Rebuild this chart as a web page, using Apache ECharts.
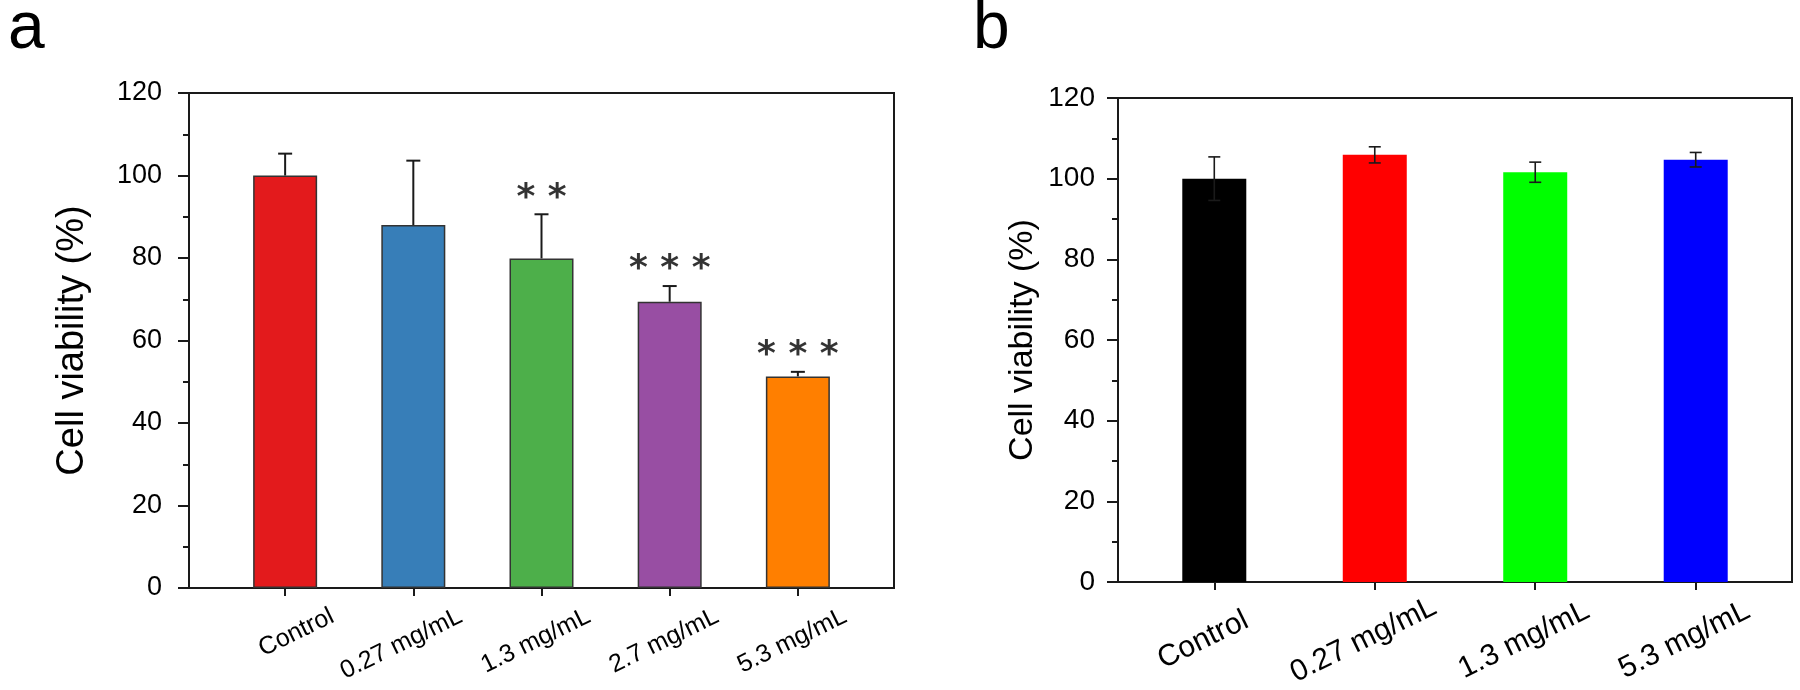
<!DOCTYPE html>
<html>
<head>
<meta charset="utf-8">
<script src="https://cdn.jsdelivr.net/npm/echarts@6/dist/echarts.min.js"></script>
<style>
  html, body { margin: 0; padding: 0; background: #fff; }
  #chart { width: 1800px; height: 690px; }
</style>
</head>
<body>
<div id="chart"></div>
<script>
// ---- Data ----
const categoriesA = ['Control', '0.27 mg/mL', '1.3 mg/mL', '2.7 mg/mL', '5.3 mg/mL'];
const viabilityA = [100.0, 88.0, 79.9, 69.4, 51.3];
const errorA = [5.3, 15.6, 10.7, 3.8, 1.1];
const signifA = ['', '', '**', '***', '***'];

const categoriesB = ['Control', '0.27 mg/mL', '1.3 mg/mL', '5.3 mg/mL'];
const viabilityB = [100.0, 105.9, 101.6, 104.7];
const errorB = [5.4, 2.0, 2.5, 1.8];

const yMin = 0, yMax = 120, yStep = 20;
const yTitle = 'Cell viability (%)';
const panelLetters = ['a', 'b'];

// ---- Styling ----
const colorsA = ['#E31A1C', '#377EB8', '#4DAF4A', '#984EA3', '#FF7F00'];
const colorsB = ['#000000', '#FF0000', '#00FF00', '#0000FF'];
const FONT = 'Liberation Sans, Arial, sans-serif';
const INK = '#1a1a1a';

const chart = echarts.init(document.getElementById('chart'), null, { renderer: 'canvas' });

function idx(arr) { return arr.map((_, i) => i); }

function yAxisFor(gridIndex, labelSize, labelMargin, nameSize, nameGap) {
  return {
    type: 'value', gridIndex, min: yMin, max: yMax, interval: yStep,
    name: yTitle, nameLocation: 'middle', nameGap,
    nameTextStyle: { fontFamily: FONT, fontSize: nameSize, color: '#000' },
    axisLine: { show: true, onZero: false, lineStyle: { color: INK, width: 2 } },
    axisTick: { show: true, inside: false, length: 11, lineStyle: { color: INK, width: 2 } },
    minorTick: { show: true, splitNumber: 2, length: 6, lineStyle: { color: INK, width: 2 } },
    axisLabel: { fontFamily: FONT, fontSize: labelSize, color: '#000', margin: labelMargin },
    splitLine: { show: false }
  };
}

function mainXAxis(gridIndex, cats, pad) {
  return {
    type: 'value', gridIndex, position: 'bottom',
    min: -pad, max: cats.length - 1 + pad,
    axisLine: { show: true, onZero: false, lineStyle: { color: INK, width: 2 } },
    axisTick: { show: true, length: 8, customValues: idx(cats), lineStyle: { color: INK, width: 2 } },
    axisLabel: { show: false },
    splitLine: { show: false }
  };
}

function labelXAxis(gridIndex, cats, pad, shift, opts) {
  return {
    type: 'value', gridIndex, position: 'bottom', offset: 0,
    min: -pad, max: cats.length - 1 + pad,
    axisLine: { show: false, onZero: false },
    axisTick: { show: false },
    splitLine: { show: false },
    axisLabel: Object.assign({
      show: true,
      customValues: idx(cats).map(i => i + shift),
      formatter: v => cats[Math.round(v - shift)] || '',
      fontFamily: FONT, color: '#000'
    }, opts)
  };
}

function errorSeries(xi, yi, means, errs, both, capHalf, width) {
  return {
    type: 'custom', xAxisIndex: xi, yAxisIndex: yi, z: 5,
    data: means.map((m, i) => [i, m, errs[i]]),
    renderItem: function (params, api) {
      const x = api.value(0), m = api.value(1), e = api.value(2);
      const top = api.coord([x, m + e]);
      const low = api.coord([x, both ? m - e : m]);
      const style = { stroke: INK, lineWidth: width };
      const children = [
        { type: 'line', shape: { x1: top[0], y1: top[1], x2: low[0], y2: low[1] }, style },
        { type: 'line', shape: { x1: top[0] - capHalf, y1: top[1], x2: top[0] + capHalf, y2: top[1] }, style }
      ];
      if (both) {
        children.push({ type: 'line', shape: { x1: low[0] - capHalf, y1: low[1], x2: low[0] + capHalf, y2: low[1] }, style });
      }
      return { type: 'group', children };
    }
  };
}

const option = {
  animation: false,
  backgroundColor: '#ffffff',
  title: [
    { text: panelLetters[0], left: 3, top: -8, textStyle: { fontFamily: FONT, fontSize: 66, fontWeight: 'normal', color: '#000' } },
    { text: panelLetters[1], left: 968, top: -8, textStyle: { fontFamily: FONT, fontSize: 66, fontWeight: 'normal', color: '#000' } }
  ],
  grid: [
    { left: 189, top: 93, width: 705, height: 495, show: true, borderColor: INK, borderWidth: 2, backgroundColor: 'transparent' },
    { left: 1118, top: 98, width: 674, height: 484, show: true, borderColor: INK, borderWidth: 2, backgroundColor: 'transparent' }
  ],
  xAxis: [
    mainXAxis(0, categoriesA, 0.75),
    labelXAxis(0, categoriesA, 0.75, 0.37, { rotate: 26, align: 'right', verticalAlign: 'middle', margin: 27, fontSize: 25 }),
    mainXAxis(1, categoriesB, 0.6),
    labelXAxis(1, categoriesB, 0.6, -0.07, { rotate: 26, align: 'center', verticalAlign: 'middle', margin: 58, fontSize: 30 })
  ],
  yAxis: [
    yAxisFor(0, 27, 27, 38, 97),
    yAxisFor(1, 28, 23, 34, 78)
  ],
  series: [
    {
      type: 'bar', xAxisIndex: 0, yAxisIndex: 0, barWidth: 64, z: 2,
      itemStyle: { borderColor: '#333', borderWidth: 1.5 },
      data: viabilityA.map((v, i) => ({ value: [i, v], itemStyle: { color: colorsA[i] } }))
    },
    errorSeries(0, 0, viabilityA, errorA, false, 7, 2),
    {
      type: 'scatter', xAxisIndex: 0, yAxisIndex: 0, symbolSize: 0, z: 6,
      data: signifA.map((s, i) => ({ name: s, value: [i, viabilityA[i] + errorA[i]] })).filter(d => d.name),
      label: {
        show: true, position: 'top', distance: 0, offset: [0, 2],
        formatter: p => p.name.split('').join(' '),
        fontFamily: 'DejaVu Sans', fontWeight: 'bold', fontSize: 36, color: '#000'
      }
    },
    {
      type: 'bar', xAxisIndex: 2, yAxisIndex: 1, barWidth: 64, z: 2,
      data: viabilityB.map((v, i) => ({ value: [i, v], itemStyle: { color: colorsB[i] } }))
    },
    errorSeries(2, 1, viabilityB, errorB, true, 6, 1.6)
  ]
};

chart.setOption(option);
</script>
</body>
</html>
